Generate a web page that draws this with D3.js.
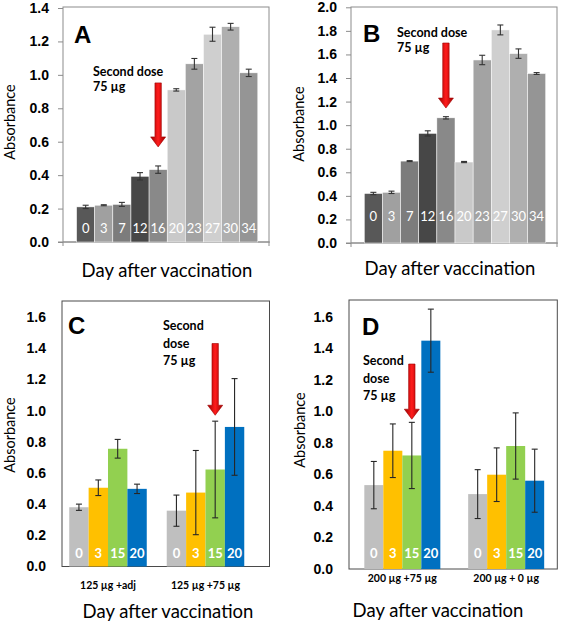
<!DOCTYPE html>
<html><head><meta charset="utf-8">
<script src="https://cdn.jsdelivr.net/npm/d3@7"></script>
<style>body{margin:0;background:#fff}svg{display:block}</style>
</head><body>
<svg id="c" width="563" height="625"></svg>
<script>
// ---------- data ----------
const daysAB = ["0","3","7","12","16","20","23","27","30","34"];
const absA = [0.21,0.22,0.225,0.393,0.433,0.91,1.066,1.243,1.288,1.012];
const errA = [0.01,0.003,0.012,0.022,0.022,0.007,0.032,0.042,0.02,0.022];
const absB = [0.42,0.43,0.695,0.93,1.062,0.687,1.553,1.808,1.607,1.438];
const errB = [0.01,0.01,0.004,0.022,0.01,0.005,0.04,0.042,0.04,0.008];
const ticksA = [0,0.2,0.4,0.6,0.8,1.0,1.2,1.4];
const ticksB = [0,0.2,0.4,0.6,0.8,1.0,1.2,1.4,1.6,1.8,2.0];
const ticksCD = [0,0.2,0.4,0.6,0.8,1.0,1.2,1.4,1.6];

const daysCD = ["0","3","15","20"];
const groupsC = ["125 µg +adj","125 µg +75 µg"];
const groupsD = ["200 µg +75 µg","200 µg + 0 µg"];
const absC = [[0.38,0.505,0.755,0.498],[0.358,0.474,0.622,0.895]];
const errC = [[0.02,0.05,0.06,0.03],[0.1,0.27,0.31,0.31]];
const absD = [[0.532,0.75,0.72,1.448],[0.475,0.598,0.78,0.56]];
const errD = [[0.15,0.17,0.21,0.2],[0.155,0.17,0.21,0.2]];

const yTitle = "Absorbance";
const xTitle = "Day after vaccination";
const noteLines = ["Second dose","75 µg"];
const noteLines3 = ["Second","dose","75 µg"];

// ---------- styles ----------
const greysAB = ["#585858","#a0a0a0","#7c7c7c","#474747","#898989","#c9c9c9","#a3a3a3","#cfcfcf","#afafaf","#959595"];
const coloursCD = ["#bfbfbf","#ffc000","#92d050","#0070c0"];
const calibri = "Lato, 'Open Sans', sans-serif";
const arial = "'Liberation Sans', Arial, sans-serif";

const svg = d3.select("#c");
const defs = svg.append("defs");
const grad = defs.append("linearGradient").attr("id","ag").attr("x1",0).attr("x2",1).attr("y1",0).attr("y2",0);
grad.append("stop").attr("offset","0%").attr("stop-color","#9a0000");
grad.append("stop").attr("offset","50%").attr("stop-color","#ff1c1c");
grad.append("stop").attr("offset","100%").attr("stop-color","#9a0000");

function arrow(g, cx, top, tip) {
  const sw = 3.2, hw = 7.5, hl = 10;
  const p = d3.path();
  p.moveTo(cx - sw, top); p.lineTo(cx + sw, top); p.lineTo(cx + sw, tip - hl);
  p.lineTo(cx + hw, tip - hl); p.lineTo(cx, tip); p.lineTo(cx - hw, tip - hl);
  p.lineTo(cx - sw, tip - hl); p.closePath();
  g.append("path").attr("d", p.toString()).attr("fill","url(#ag)").attr("stroke","#a00000").attr("stroke-width",0.6);
}

function frame(g, l, r, t, b, col) {
  g.append("rect").attr("x",l).attr("y",t).attr("width",r-l).attr("height",b-t)
    .attr("fill","none").attr("stroke",col).attr("stroke-width",1);
}

function yAxis(g, y, ticks, xAxis, tickSize, pad) {
  const ax = g.append("g").attr("transform",`translate(${xAxis},0)`)
    .call(d3.axisLeft(y).tickValues(ticks).tickSize(tickSize).tickPadding(pad).tickFormat(d3.format(".1f")));
  ax.select(".domain").remove();
  ax.selectAll(".tick line").attr("stroke","#8c8c8c");
  ax.selectAll("text").attr("font-family",arial).attr("font-weight","bold").attr("font-size",14).attr("fill","#000");
}

function titles(g, yx, yy, xx, xy, letter, lx, ly) {
  g.append("text").attr("transform",`translate(${yx},${yy}) rotate(-90)`).attr("text-anchor","middle")
    .attr("font-family",calibri).attr("font-size",14.5).text(yTitle);
  g.append("text").attr("x",xx).attr("y",xy).attr("text-anchor","middle")
    .attr("font-family",calibri).attr("font-size",18.5).text(xTitle);
  g.append("text").attr("x",lx).attr("y",ly).attr("font-family",arial).attr("font-weight","bold")
    .attr("font-size",24).text(letter);
}

function note(g, lines, x, y0, dy) {
  lines.forEach((t,i) => g.append("text").attr("x",x).attr("y",y0+i*dy)
    .attr("font-family",calibri).attr("font-weight","bold").attr("font-size",12.5).text(t));
}

function errBar(g, cx, y, v, e, cap, col) {
  g.append("line").attr("x1",cx).attr("x2",cx).attr("y1",y(v+e)).attr("y2",y(v-e)).attr("stroke",col).attr("stroke-width",1.1);
  [v+e, v-e].forEach(w => g.append("line").attr("x1",cx-cap).attr("x2",cx+cap).attr("y1",y(w)).attr("y2",y(w))
    .attr("stroke",col).attr("stroke-width",1.1));
}

// ---------- panels A / B ----------
function panelAB(o) {
  const g = svg.append("g");
  const x = d3.scaleBand().domain(daysAB).range([o.bx0, o.bx1]).padding(0);
  const y = d3.scaleLinear().domain([0, o.ymax]).range([o.yb, o.yt]);
  frame(g, o.fl, o.fr, o.ft, o.yb, "#8c8c8c");
  g.append("line").attr("x1",o.fl-5).attr("x2",o.fr+1).attr("y1",o.yb).attr("y2",o.yb).attr("stroke","#8c8c8c");
  [o.fl, o.fr].forEach(xx => g.append("line").attr("x1",xx).attr("x2",xx).attr("y1",o.yb).attr("y2",o.yb+4).attr("stroke","#8c8c8c"));
  yAxis(g, y, o.ticks, o.fl, 5, 9);
  g.selectAll("rect.bar").data(o.vals).join("rect").attr("class","bar")
    .attr("x",(d,i)=>x(daysAB[i])).attr("width",x.bandwidth())
    .attr("y",d=>y(d)).attr("height",d=>y(0)-y(d))
    .attr("fill",(d,i)=>greysAB[i]).attr("stroke","#fff").attr("stroke-width",0.5);
  o.vals.forEach((v,i)=>errBar(g, x(daysAB[i])+x.bandwidth()/2, y, v, o.errs[i], 3, "#333"));
  g.selectAll("text.day").data(daysAB).join("text").attr("class","day")
    .attr("x",d=>x(d)+x.bandwidth()/2).attr("y",o.dayY).attr("text-anchor","middle")
    .attr("font-family",calibri).attr("font-size",13).attr("fill","#fff").text(d=>d);
  const ax = x("16") + x.bandwidth()/2;
  arrow(g, ax, y(o.arrTop), y(o.arrTip));
  note(g, noteLines, o.nx, o.ny, 15);
  titles(g, o.ytx, o.yty, o.xtx, o.xty, o.letter, o.lx, o.ly);
}

panelAB({vals:absA, errs:errA, ticks:ticksA, ymax:1.4, yb:242, yt:8,
  bx0:76.6, bx1:257.8, fl:63, fr:269, ft:7, dayY:233,
  arrTop:0.952, arrTip:0.569, nx:93, ny:76,
  ytx:14.5, yty:122, xtx:167, xty:277, letter:"A", lx:74, ly:43});

panelAB({vals:absB, errs:errB, ticks:ticksB, ymax:2.0, yb:243, yt:7.3,
  bx0:364.3, bx1:545.7, fl:351, fr:557, ft:7, dayY:221,
  arrTop:1.697, arrTip:1.145, nx:397, ny:36.5,
  ytx:304, yty:124, xtx:450, xty:275, letter:"B", lx:363, ly:42});

// ---------- panels C / D ----------
function panelCD(o) {
  const g = svg.append("g");
  const xg = d3.scaleBand().domain(o.groups).range([o.gx0, o.gx1]).padding(0);
  const inner = xg.bandwidth() * o.frac;
  const xd = d3.scaleBand().domain(daysCD).range([0, inner]).padding(0);
  const off = (xg.bandwidth() - inner) / 2;
  const y = d3.scaleLinear().domain([0, 1.6]).range([o.yb, o.yt]);
  frame(g, o.fl, o.fr, o.ft, o.yb, "#4a4a4a");
  yAxis(g, y, ticksCD, o.fl, 0, 16);
  o.groups.forEach((grp, gi) => {
    const gx = xg(grp) + off;
    g.selectAll(null).data(o.vals[gi]).join("rect")
      .attr("x",(d,i)=>gx + xd(daysCD[i])).attr("width",xd.bandwidth())
      .attr("y",d=>y(d)).attr("height",d=>y(0)-y(d))
      .attr("fill",(d,i)=>coloursCD[i]);
    o.vals[gi].forEach((v,i)=>errBar(g, gx + xd(daysCD[i]) + xd.bandwidth()/2, y, v, o.errs[gi][i], 3, "#262626"));
    g.selectAll(null).data(daysCD).join("text")
      .attr("x",d=>gx + xd(d) + xd.bandwidth()/2).attr("y",o.dayY).attr("text-anchor","middle")
      .attr("font-family",calibri).attr("font-weight","bold").attr("font-size",13).attr("fill","#fff").text(d=>d);
    g.append("text").attr("x",xg(grp)+xg.bandwidth()/2).attr("y",o.catY).attr("text-anchor","middle")
      .attr("font-family",calibri).attr("font-weight","bold").attr("font-size",10.5).text(grp);
  });
  const ag = o.groups[o.arrGroup];
  const ax = xg(ag) + off + xd("15") + xd.bandwidth()/2;
  arrow(g, ax, y(o.arrTop), y(o.arrTip));
  note(g, noteLines3, o.nx, o.ny, 17.5);
  titles(g, o.ytx, o.yty, o.xtx, o.xty, o.letter, o.lx, o.ly);
}

panelCD({groups:groupsC, vals:absC, errs:errC, gx0:59.25, gx1:254.25, frac:0.795,
  yb:566.5, yt:317, fl:62, fr:269.5, ft:301, dayY:558, catY:589,
  arrGroup:1, arrTop:1.43, arrTip:0.97, nx:163, ny:330,
  ytx:14.5, yty:435, xtx:168, xty:618, letter:"C", lx:68, ly:334});

panelCD({groups:groupsD, vals:absD, errs:errD, gx0:350.4, gx1:558.1, frac:0.732,
  yb:569, yt:316.7, fl:349, fr:557.3, ft:300, dayY:558, catY:582,
  arrGroup:0, arrTop:1.30, arrTip:0.95, nx:363, ny:365,
  ytx:305, yty:430, xtx:438, xty:617, letter:"D", lx:362, ly:335});
</script>
</body></html>
